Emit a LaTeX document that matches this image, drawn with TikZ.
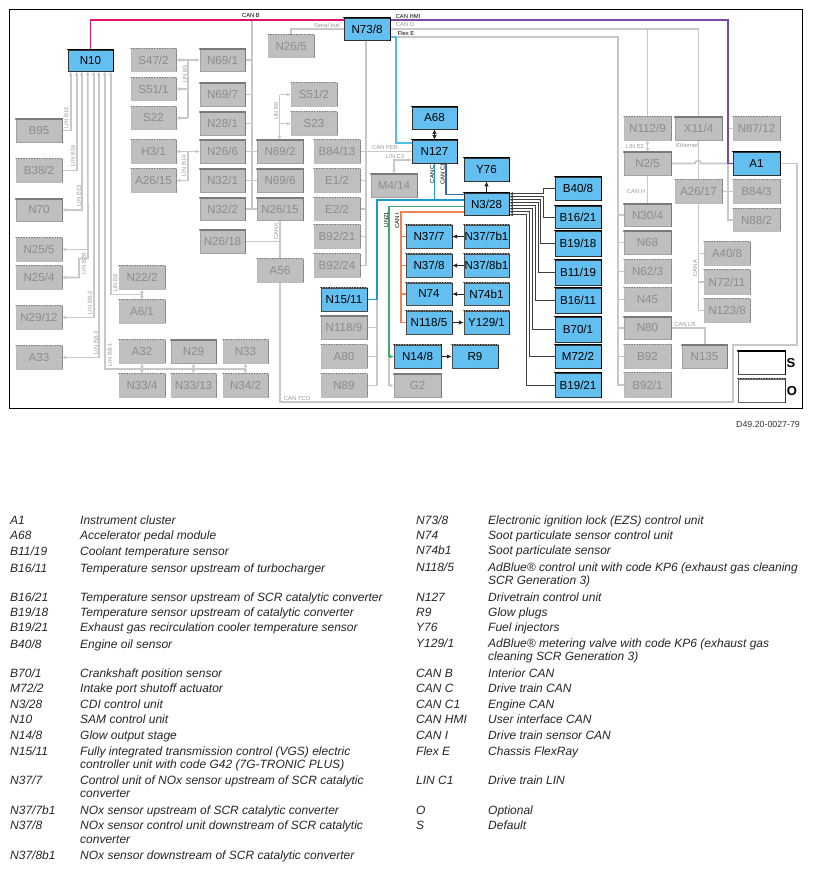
\documentclass[tikz,border=0pt]{standalone}
\usepackage{fontspec}
\setmainfont{Liberation Sans}
\usetikzlibrary{arrows.meta,backgrounds}
\definecolor{gfill}{HTML}{BFBFBF}
\definecolor{gtext}{HTML}{8C8C8C}
\definecolor{gedge}{HTML}{7A7A7A}
\definecolor{bfill}{HTML}{62BFEF}
\definecolor{gline}{HTML}{C8C8C8}
\definecolor{lbl}{HTML}{9A9A9A}
\definecolor{cCanB}{HTML}{E0116F}
\definecolor{cHmi}{HTML}{7A4BA6}
\definecolor{cFlex}{HTML}{4FBFEE}
\definecolor{cCanC}{HTML}{1C98D0}
\definecolor{cCanOne}{HTML}{3A68A8}
\definecolor{cLin}{HTML}{3FAA72}
\definecolor{cCanI}{HTML}{F08355}
\tikzset{
  x=1pt,y=-1pt,
  boxbase/.style={inner sep=0pt,font=\fontsize{11.6}{12}\selectfont},
  gS/.style={boxbase,fill=gfill,text=gtext,draw=gedge!70,line width=.5pt},
  gO/.style={boxbase,fill=gfill,text=gtext,draw=gedge!50,line width=.4pt},
  bS/.style={boxbase,fill=bfill,text=black,draw=black!80,line width=.7pt},
  bO/.style={boxbase,fill=bfill,text=black,draw=black!70,line width=.45pt},
  wS/.style={boxbase,fill=white,draw=black!70,line width=.6pt},
  wO/.style={boxbase,fill=white,draw=black!60,line width=.45pt},
  gSe/.style={draw=gedge,line width=1.5pt},
  gOe/.style={draw=gedge,line width=1.1pt,dash pattern=on 1pt off 1.6pt},
  bSe/.style={draw=black,line width=1.6pt},
  bOe/.style={draw=black!85,line width=1.1pt,dash pattern=on 1pt off 1.6pt},
  wSe/.style={draw=black,line width=1.6pt},
  wOe/.style={draw=black!85,line width=1.1pt,dash pattern=on 1pt off 1.6pt},
  gl/.style={draw=gline,line width=1.7pt},
  gr/.style={gl,-{Latex[length=4pt,width=4pt]}},
  grr/.style={gl,{Latex[length=4pt,width=4pt]}-{Latex[length=4pt,width=4pt]}},
  grb/.style={gl,{Latex[length=4pt,width=4pt]}-},
  dk/.style={draw=black!85,line width=.9pt,-{Latex[length=5pt,width=4.5pt]}},
  dkk/.style={draw=black!85,line width=.9pt,{Latex[length=4.5pt,width=4.5pt]}-{Latex[length=4.5pt,width=4.5pt]}},
  bw/.style={draw=black!75,line width=.85pt,{Latex[length=3.5pt,width=3.4pt]}-},
  canb/.style={draw=cCanB,line width=1.9pt},
  hmi/.style={draw=cHmi,line width=1.9pt},
  flex/.style={draw=cFlex,line width=1.8pt},
  canc/.style={draw=cCanC,line width=1.9pt},
  cancone/.style={draw=cCanOne,line width=1.9pt},
  linb/.style={draw=cLin,line width=1.9pt},
  cani/.style={draw=cCanI,line width=1.9pt},
  lab/.style={inner sep=0pt,font=\fontsize{5.8}{6}\selectfont,text=lbl},
  labk/.style={inner sep=0pt,font=\fontsize{5.8}{6}\selectfont,text=black},
  leg/.style={inner sep=0pt,anchor=base west,text=black!85,font=\fontsize{12}{12}\selectfont\itshape},
}
\newcommand\BX[7]{%
  \pgfmathsetlengthmacro\mybw{#5-#3}\pgfmathsetlengthmacro\mybh{#6-#4}%
  \node[#1,minimum width=\mybw,minimum height=\mybh] (#2) at ({(#3+#5)/2},{(#4+#6)/2}) {#7};
  \draw[#1e,line cap=round] (#2.north west) -- (#2.north east) -- (#2.south east);
}
\newcounter{labno}
\newcommand\LB[5]{\stepcounter{labno}\node[#1,rotate=#4] (lab\arabic{labno}) at (#2,#3) {#5};}
\newcounter{legno}
\newcommand\LG[3]{\stepcounter{legno}\node[leg] (leg\arabic{legno}) at (#1,{#2+4}) {#3};}
\begin{document}
\begin{tikzpicture}
\useasboundingbox (0,0) rectangle (812,870);
\begin{scope}[on background layer]\fill[white] (0,0) rectangle (812,870);\end{scope}
\node[draw=black,line width=1pt,inner sep=0pt,minimum width=793pt,minimum height=399pt] (frame) at (405.8,209.3) {};
% blue
\BX{bS}{N10}{68}{50}{113}{71}{N10}
\BX{bS}{N73-8}{344}{18}{390}{40}{N73/8}
\BX{bS}{A68}{412}{107}{457}{129}{A68}
\BX{bS}{N127}{412}{140}{457}{163}{N127}
\BX{bS}{Y76}{464}{158}{509}{181}{Y76}
\BX{bS}{N3-28}{464}{193}{509}{215}{N3/28}
\BX{bS}{A1}{733}{152}{780}{175}{A1}
\BX{bS}{B40-8}{555}{177}{601}{200}{B40/8}
\BX{bS}{B16-21}{555}{206}{601}{228}{B16/21}
\BX{bS}{B19-18}{555}{231}{601}{256}{B19/18}
\BX{bS}{B11-19}{555}{260}{601}{285}{B11/19}
\BX{bS}{B16-11}{555}{288}{601}{313}{B16/11}
\BX{bS}{B70-1}{555}{317}{601}{342}{B70/1}
\BX{bS}{M72-2}{555}{345}{601}{368}{M72/2}
\BX{bS}{B19-21}{555}{373}{601}{397}{B19/21}
\BX{bO}{N15-11}{321}{288}{367}{311}{N15/11}
\BX{bO}{N37-7}{406}{225}{452}{248}{N37/7}
\BX{bO}{N37-7b1}{464}{225}{509}{248}{N37/7b1}
\BX{bO}{N37-8}{406}{254}{452}{277}{N37/8}
\BX{bO}{N37-8b1}{464}{254}{509}{277}{N37/8b1}
\BX{bO}{N74}{406}{283}{452}{305}{N74}
\BX{bO}{N74b1}{464}{283}{509}{305}{N74b1}
\BX{bO}{N118-5}{406}{311}{452}{334}{N118/5}
\BX{bO}{Y129-1}{464}{311}{509}{334}{Y129/1}
\BX{bO}{N14-8}{394}{345}{441}{368}{N14/8}
\BX{bO}{R9}{452}{345}{498}{368}{R9}
% grey left
\BX{gO}{S47-2}{131}{49}{176}{71}{S47/2}
\BX{gS}{N69-1}{200}{49}{245}{71}{N69/1}
\BX{gO}{S51-1}{131}{78}{176}{100}{S51/1}
\BX{gS}{N69-7}{200}{83}{245}{106}{N69/7}
\BX{gO}{S22}{131}{107}{176}{129}{S22}
\BX{gS}{N28-1}{200}{112}{245}{135}{N28/1}
\BX{gO}{H3-1}{131}{140}{176}{163}{H3/1}
\BX{gS}{N26-6}{200}{140}{245}{163}{N26/6}
\BX{gO}{A26-15}{131}{169}{176}{192}{A26/15}
\BX{gS}{N32-1}{200}{169}{245}{192}{N32/1}
\BX{gS}{N32-2}{200}{198}{245}{220}{N32/2}
\BX{gS}{N69-2}{257}{140}{303}{163}{N69/2}
\BX{gS}{N69-6}{257}{169}{303}{192}{N69/6}
\BX{gS}{N26-15}{257}{198}{303}{220}{N26/15}
\BX{gS}{N26-18}{200}{230}{245}{253}{N26/18}
\BX{gO}{A56}{257}{259}{303}{282}{A56}
\BX{gS}{B95}{16}{119}{62}{142}{B95}
\BX{gO}{B38-2}{16}{159}{62}{182}{B38/2}
\BX{gS}{N70}{16}{199}{62}{221}{N70}
\BX{gO}{N25-5}{16}{238}{62}{261}{N25/5}
\BX{gO}{N25-4}{16}{266}{62}{289}{N25/4}
\BX{gO}{N29-12}{16}{306}{62}{329}{N29/12}
\BX{gO}{A33}{16}{346}{62}{369}{A33}
\BX{gO}{N22-2}{119}{266}{165}{289}{N22/2}
\BX{gO}{A6-1}{119}{300}{165}{323}{A6/1}
\BX{gO}{A32}{119}{340}{165}{363}{A32}
\BX{gS}{N29}{171}{340}{216}{363}{N29}
\BX{gO}{N33}{223}{340}{268}{363}{N33}
\BX{gO}{N33-4}{119}{374}{165}{397}{N33/4}
\BX{gO}{N33-13}{171}{374}{216}{397}{N33/13}
\BX{gO}{N34-2}{223}{374}{268}{397}{N34/2}
\BX{gO}{N26-5}{268}{35}{314}{57}{N26/5}
\BX{gO}{S51-2}{291}{83}{337}{106}{S51/2}
\BX{gO}{S23}{291}{112}{337}{135}{S23}
\BX{gS}{M4-14}{371}{174}{417}{197}{M4/14}
\BX{gO}{B84-13}{314}{140}{360}{163}{B84/13}
\BX{gO}{E1-2}{314}{169}{360}{192}{E1/2}
\BX{gO}{E2-2}{314}{198}{360}{220}{E2/2}
\BX{gO}{B92-21}{314}{225}{360}{248}{B92/21}
\BX{gO}{B92-24}{314}{254}{360}{277}{B92/24}
\BX{gS}{N118-9}{321}{316}{367}{339}{N118/9}
\BX{gO}{A80}{321}{345}{367}{368}{A80}
\BX{gO}{N89}{321}{374}{367}{397}{N89}
\BX{gS}{G2}{394}{374}{441}{397}{G2}
% grey right
\BX{gO}{N112-9}{624}{117}{671}{140}{N112/9}
\BX{gS}{X11-4}{675}{117}{722}{140}{X11/4}
\BX{gO}{N87-12}{733}{117}{780}{140}{N87/12}
\BX{gS}{N2-5}{624}{152}{671}{175}{N2/5}
\BX{gO}{A26-17}{675}{180}{722}{203}{A26/17}
\BX{gO}{B84-3}{733}{180}{780}{203}{B84/3}
\BX{gO}{N88-2}{733}{209}{780}{231}{N88/2}
\BX{gS}{N30-4}{624}{204}{671}{226}{N30/4}
\BX{gS}{N68}{624}{231}{671}{254}{N68}
\BX{gO}{N62-3}{624}{260}{671}{283}{N62/3}
\BX{gO}{N45}{624}{288}{671}{311}{N45}
\BX{gS}{N80}{624}{317}{671}{339}{N80}
\BX{gO}{B92}{624}{345}{671}{368}{B92}
\BX{gO}{B92-1}{624}{373}{671}{397}{B92/1}
\BX{gO}{A40-8}{704}{242}{750}{265}{A40/8}
\BX{gO}{N72-11}{704}{270}{750}{294}{N72/11}
\BX{gO}{N123-8}{704}{299}{750}{322}{N123/8}
\BX{gS}{N135}{682}{345}{727}{368}{N135}
% legend boxes
\BX{wS}{keyS}{738}{351}{785}{374}{}
\BX{wO}{keyO}{738}{379}{785}{402}{}
\node[inner sep=0pt,font=\fontsize{13}{13}\selectfont\bfseries] (tS) at (791,363) {S};
\node[inner sep=0pt,font=\fontsize{13}{13}\selectfont\bfseries] (tO) at (792,391) {O};
% bus coordinates
\coordinate (yB) at (0,20); \coordinate (yS) at (0,29); \coordinate (yF) at (0,37);
\coordinate (xK) at (252,0); \coordinate (xL5) at (188,0); \coordinate (xL6) at (279.5,0);
\coordinate (xG) at (366,0); \coordinate (xF) at (396,0); \coordinate (xFE) at (618,0);
\coordinate (xC) at (377,0); \coordinate (xGr) at (389,0); \coordinate (xOr) at (400.7,0);
\coordinate (xT) at (728,0); \coordinate (xE) at (698,0);
\coordinate (yTB) at (0,402);
\coordinate (xR) at (797,0); \coordinate (yR) at (0,345); \coordinate (xR2) at (733,0);
\path (N10.south west) ++(3,0) coordinate (ta) ++(6,0) coordinate (tb) ++(5,0) coordinate (tc) ++(6,0) coordinate (td) ++(6,0) coordinate (te) ++(5,0) coordinate (tf) ++(6,0) coordinate (tg) ++(6,0) coordinate (th);
\coordinate (j1) at (88,258.5); \coordinate (j2) at (79,258.5);
\coordinate (yB8) at (0,294.5); \coordinate (yB81) at (0,369);
\path (N3-28.north east) ++(0,1) coordinate (s1) ++(0,3) coordinate (s2) ++(0,3) coordinate (s3) ++(0,3) coordinate (s4) ++(0,3) coordinate (s5) ++(0,3) coordinate (s6) ++(0,3) coordinate (s7) ++(0,3) coordinate (s8);
\coordinate (xa) at (543,0); \coordinate (xb) at (540.5,0); \coordinate (xc) at (538,0); \coordinate (xd) at (535,0); \coordinate (xe) at (532,0); \coordinate (xf) at (529,0); \coordinate (xg) at (526,0);
\coordinate (f1) at (412,143); \coordinate (lc3) at (412,160);
\coordinate (c1) at (446,163); \coordinate (yC1) at (0,194.5); \coordinate (yC) at (0,200);
\coordinate (yGr) at (0,206.5); \coordinate (yOr) at (0,212);
\coordinate (hopa) at (695,163.5); \coordinate (hopb) at (701,163.5);
\coordinate (lr) at (705,328);
\begin{scope}[on background layer]
% grey
\draw[gl] (xK |- yB) -- (xK |- N32-2.east);
\foreach \n in {N69-1,N69-7,N28-1} \draw[gl] (\n.east) -- (\n.east -| xK);
\draw[gl] (N26-6.east) -- (N69-2.west);
\draw[gl] (N32-1.east) -- (N69-6.west);
\draw[gl] (N32-2.east) -- (N26-15.west);
\draw[gl] (N26-15.south) -- (A56.north);
\draw[gl] (N26-18.east) -- (N26-18.east -| A56.north);
\draw[gl] (A56.south) |- (yTB -| xR2) -- (xR2 |- yR) -| (xR |- A1.east) -- (A1.east);
\draw[gl] (N26-5.north) |- (N73-8.west |- yS);
\draw[gl] (N73-8.south -| xG) -- (xG |- B92-24.east);
\foreach \n in {E1-2,E2-2,B92-21,B92-24} \draw[gl] (\n.east) -- (\n.east -| xG);
\draw[gl] (B84-13.east) -- (N127.west);
\draw[grr] (lc3) -| (M4-14.north);
\draw[gl] (N73-8.east |- yS) -| (X11-4.north);
\draw[gl] (N112-9.north) -- (N112-9.north |- yS);
\draw[gl] (xF |- yF) -| (xFE |- B92-1.west) -- (B92-1.west);
\foreach \n in {N30-4,N68,N62-3,N45,N80,B92} \draw[gl] (\n.west) -- (\n.west -| xFE);
\draw[grr] (N112-9.south) -- (N2-5.north);
\draw[gl] (N2-5.south) -- (N30-4.north);
\draw[gl] (X11-4.south) -- (A26-17.north);
\draw[gl] (N2-5.east |- hopa) -- (hopa) arc[start angle=180,end angle=360,radius=3] -- (A1.west |- hopb);
\draw[gl] (A26-17.east) -- (B84-3.west);
\draw[gl] (N87-12.west) -- (N87-12.west -| xT);
\draw[gl] (xT |- N87-12.west) |- (N88-2.west);
\draw[gl] (A26-17.south) |- (N123-8.west);
\foreach \n in {A40-8,N72-11} \draw[gl] (\n.west) -- (\n.west -| A26-17.south);
\draw[gl] (N80.east) -| (N135.north -| lr);
\draw[gl] (N15-11.east) -| (xC |- N89.east) -- (N89.east);
\foreach \n in {N118-9,A80} \draw[gl] (\n.east) -- (\n.east -| xC);
\draw[gr] (xGr |- N14-8.west) |- (G2.west);
% LIN
\draw[grb] (ta) |- (B95.east);
\draw[grb] (tb) |- (B38-2.east);
\draw[grr] (tc) |- (N70.east);
\draw[grb] (td) -- (j1) -- (j2) |- (N25-4.east);
\draw[gr] (N25-5.east -| td) -- (N25-5.east);
\draw[gr] (j2 |- N25-4.east) -- (N25-4.east);
\draw[grr] (te) |- (N29-12.east);
\draw[grr] (tf) |- (A33.east);
\draw[grb] (tg) |- (yB81 -| N33.south);
\draw[grb] (th) |- (yB8 -| N22-2.south);
\draw[grr] (N22-2.south) -- (A6-1.north);
\draw[grr] (A32.south) -- (N33-4.north);
\draw[grr] (N29.south) -- (N33-13.north);
\draw[grr] (N33.south) -- (N34-2.north);
\draw[grr] (S47-2.east) -- (N69-1.west);
\draw[gl] (S47-2.east -| xL5) -- (xL5 |- S22.east);
\draw[gr] (S51-1.east -| xL5) -- (S51-1.east);
\draw[gr] (S22.east -| xL5) -- (S22.east);
\draw[grr] (H3-1.east) -- (N26-6.west);
\draw[gr] (H3-1.east -| xL5) |- (A26-15.east);
\draw[gr] (S51-2.west -| xL6) -- (N69-2.north -| xL6);
\draw[gr] (S51-2.west -| xL6) -- (S51-2.west);
\draw[gr] (S23.west -| xL6) -- (S23.west);
% coloured
\draw[canb] (N10.north) |- (N73-8.west |- yB);
\draw[hmi] (N73-8.east |- yB) -| (xT |- A1.west) -- (A1.west);
\draw[flex] (N73-8.east |- yF) -| (xF |- f1) -- (f1);
\draw[canc] (N127.south) -- (N127.south |- yC);
\draw[canc] (N3-28.west |- yC) -| (xC |- N15-11.east) -- (N15-11.east);
\draw[cancone] (c1) |- (N3-28.west |- yC1);
\draw[linb,-{Latex[length=4.5pt,width=4.5pt]}] (N3-28.west |- yGr) -| (xGr |- N14-8.west) -- (N14-8.west);
\draw[cani] (N3-28.west |- yOr) -| (xOr |- N118-5.west) -- (N118-5.west);
\foreach \n in {N37-7,N37-8,N74} \draw[cani] (\n.west) -- (\n.west -| xOr);
% dark
\draw[dkk] (A68.south) -- (N127.north);
\draw[dk] (N3-28.north -| Y76.south) -- (Y76.south);
\draw[dk] (N37-7b1.west) -- (N37-7.east);
\draw[dk] (N37-8b1.west) -- (N37-8.east);
\draw[dk] (N74b1.west) -- (N74.east);
\draw[dk] (N118-5.east) -- (Y129-1.west);
\draw[dk] (N14-8.east) -- (R9.west);
\draw[bw] (s1) -- (s1 -| xa) |- (B40-8.west);
\draw[bw] (s2) -- (s2 -| xa) |- (B16-21.west);
\draw[bw] (s3) -- (s3 -| xb) |- (B19-18.west);
\draw[bw] (s4) -- (s4 -| xc) |- (B11-19.west);
\draw[bw] (s5) -- (s5 -| xd) |- (B16-11.west);
\draw[bw] (s6) -- (s6 -| xe) |- (B70-1.west);
\draw[bw] (s7) -- (s7 -| xf) |- (M72-2.west);
\draw[bw] (s8) -- (s8 -| xg) |- (B19-21.west);
\end{scope}
% connector labels
\LB{labk}{251}{16}{0}{CAN B}
\LB{lab}{327}{25}{0}{Serial bus}
\LB{labk}{408}{16.5}{0}{CAN HMI}
\LB{lab}{405}{25}{0}{CAN D}
\LB{labk}{406}{33.5}{0}{Flex E}
\LB{lab}{66.5}{118}{90}{LIN B15}
\LB{lab}{73}{156}{90}{LIN B16}
\LB{lab}{79}{196}{90}{LIN B13}
\LB{lab}{185}{74}{90}{LIN B5}
\LB{lab}{184}{166}{90}{LIN B14}
\LB{lab}{276}{111}{90}{LIN B6}
\LB{lab}{84}{264}{90}{LIN B28}
\LB{lab}{90}{303}{90}{LIN B8-2}
\LB{lab}{96}{343}{90}{LIN B8-3}
\LB{lab}{110}{355}{90}{LIN B8-1}
\LB{lab}{115.5}{283}{90}{LIN B8}
\LB{lab}{276}{231}{90}{CAN K}
\LB{lab}{385}{148}{0}{CAN PER}
\LB{lab}{395}{157}{0}{LIN C3}
\LB{labk}{432}{174}{90}{CAN C}
\LB{labk}{442.5}{174}{90}{CAN C1}
\LB{labk}{386}{220}{90}{LIN21}
\LB{labk}{397}{221}{90}{CAN I}
\LB{lab}{635}{146}{0}{LIN E2}
\LB{lab}{687}{145}{0}{Ethernet}
\LB{lab}{636}{192}{0}{CAN H}
\LB{lab}{695}{268}{90}{CAN A}
\LB{lab}{685}{324}{0}{CAN LR}
\LB{lab}{297}{398}{0}{CAN TCO}
\node[inner sep=0pt,anchor=east,text=black!80,font=\fontsize{8.8}{9}\selectfont] (docid) at (800,424) {D49.20-0027-79};
% legend
\LG{10}{520}{A1}\LG{80}{520}{Instrument cluster}
\LG{10}{535}{A68}\LG{80}{535}{Accelerator pedal module}
\LG{10}{551}{B11/19}\LG{80}{551}{Coolant temperature sensor}
\LG{10}{568}{B16/11}\LG{80}{568}{Temperature sensor upstream of turbocharger}
\LG{10}{597}{B16/21}\LG{80}{597}{Temperature sensor upstream of SCR catalytic converter}
\LG{10}{612}{B19/18}\LG{80}{612}{Temperature sensor upstream of catalytic converter}
\LG{10}{627}{B19/21}\LG{80}{627}{Exhaust gas recirculation cooler temperature sensor}
\LG{10}{644}{B40/8}\LG{80}{644}{Engine oil sensor}
\LG{10}{673}{B70/1}\LG{80}{673}{Crankshaft position sensor}
\LG{10}{688}{M72/2}\LG{80}{688}{Intake port shutoff actuator}
\LG{10}{704}{N3/28}\LG{80}{704}{CDI control unit}
\LG{10}{719}{N10}\LG{80}{719}{SAM control unit}
\LG{10}{735}{N14/8}\LG{80}{735}{Glow output stage}
\LG{10}{751}{N15/11}\LG{80}{751}{Fully integrated transmission control (VGS) electric}
\LG{80}{764}{controller unit with code G42 (7G-TRONIC PLUS)}
\LG{10}{780}{N37/7}\LG{80}{780}{Control unit of NOx sensor upstream of SCR catalytic}
\LG{80}{793}{converter}
\LG{10}{810}{N37/7b1}\LG{80}{810}{NOx sensor upstream of SCR catalytic converter}
\LG{10}{825}{N37/8}\LG{80}{825}{NOx sensor control unit downstream of SCR catalytic}
\LG{80}{839}{converter}
\LG{10}{855}{N37/8b1}\LG{80}{855}{NOx sensor downstream of SCR catalytic converter}
\LG{416}{520}{N73/8}\LG{488}{520}{Electronic ignition lock (EZS) control unit}
\LG{416}{535}{N74}\LG{488}{535}{Soot particulate sensor control unit}
\LG{416}{550}{N74b1}\LG{488}{550}{Soot particulate sensor}
\LG{416}{567}{N118/5}\LG{488}{567}{AdBlue® control unit with code KP6 (exhaust gas cleaning}
\LG{488}{580}{SCR Generation 3)}
\LG{416}{597}{N127}\LG{488}{597}{Drivetrain control unit}
\LG{416}{612}{R9}\LG{488}{612}{Glow plugs}
\LG{416}{627}{Y76}\LG{488}{627}{Fuel injectors}
\LG{416}{643}{Y129/1}\LG{488}{643}{AdBlue® metering valve with code KP6 (exhaust gas}
\LG{488}{656}{cleaning SCR Generation 3)}
\LG{416}{673}{CAN B}\LG{488}{673}{Interior CAN}
\LG{416}{688}{CAN C}\LG{488}{688}{Drive train CAN}
\LG{416}{704}{CAN C1}\LG{488}{704}{Engine CAN}
\LG{416}{719}{CAN HMI}\LG{488}{719}{User interface CAN}
\LG{416}{735}{CAN I}\LG{488}{735}{Drive train sensor CAN}
\LG{416}{751}{Flex E}\LG{488}{751}{Chassis FlexRay}
\LG{416}{780}{LIN C1}\LG{488}{780}{Drive train LIN}
\LG{416}{810}{O}\LG{488}{810}{Optional}
\LG{416}{825}{S}\LG{488}{825}{Default}
\end{tikzpicture}
\end{document}
